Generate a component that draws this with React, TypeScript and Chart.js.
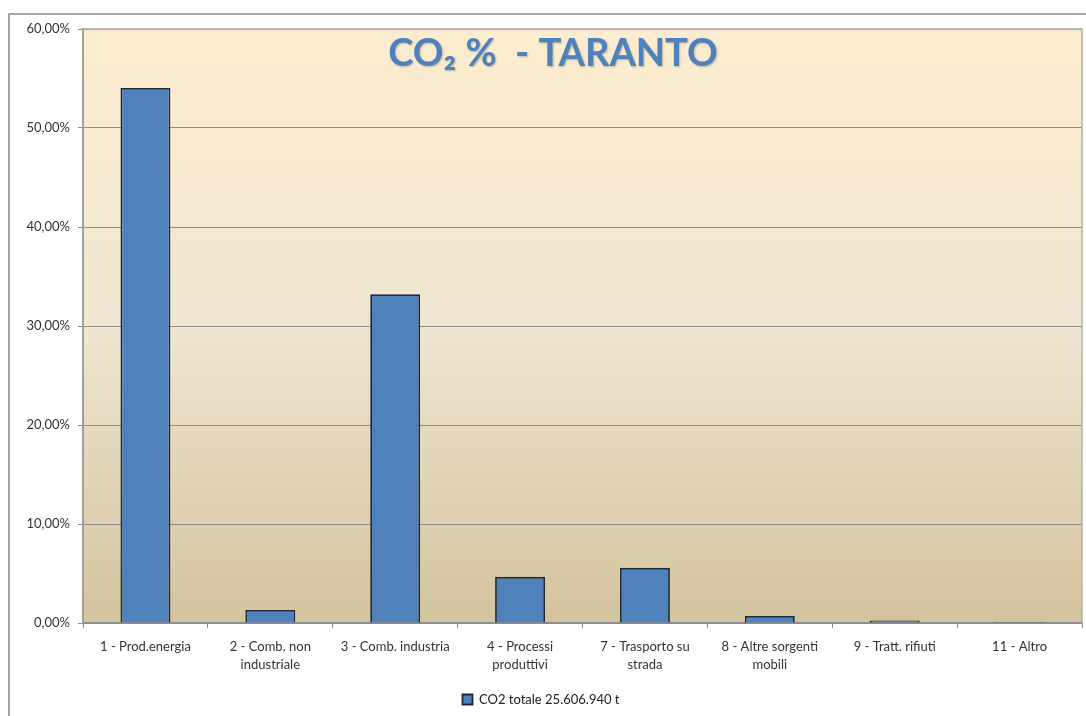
import React, { useEffect, useRef } from "react";
import { Chart, registerables } from "chart.js";

Chart.register(...registerables);

const categories: (string | string[])[] = [
  "1 - Prod.energia",
  ["2 - Comb. non", "industriale"],
  "3 - Comb. industria",
  ["4 - Processi", "produttivi"],
  ["7 - Trasporto su", "strada"],
  ["8 - Altre sorgenti", "mobili"],
  "9 - Tratt. rifiuti",
  "11 - Altro",
];
const co2Percent = [54.05, 1.32, 33.2, 4.66, 5.57, 0.7, 0.25, 0.1];
const seriesLabel = "CO2 totale 25.606.940 t";
const chartTitle = "CO\u2082 %  - TARANTO";

const FONT = "Lato, 'Open Sans', sans-serif";

const frame = {
  id: "frame",
  beforeDraw(chart: any) {
    const { ctx, chartArea, width, height } = chart;
    ctx.save();
    ctx.fillStyle = "#ffffff";
    ctx.fillRect(0, 0, width, height);
    ctx.fillStyle = "#a6a6a6";
    ctx.fillRect(8, 13, 2, height);
    ctx.fillRect(8, 13, width, 2);
    const g = ctx.createLinearGradient(0, chartArea.top, 0, chartArea.bottom);
    g.addColorStop(0, "#fdedd0");
    g.addColorStop(0.5, "#efe7d2");
    g.addColorStop(1, "#d4c39e");
    ctx.fillStyle = g;
    ctx.fillRect(chartArea.left, chartArea.top, chartArea.right - chartArea.left, chartArea.bottom - chartArea.top);
    ctx.restore();
  },
  afterDraw(chart: any) {
    const { ctx, chartArea } = chart;
    ctx.save();
    ctx.strokeStyle = "#b0b0b0";
    ctx.lineWidth = 1.5;
    ctx.beginPath();
    ctx.moveTo(chartArea.left, chartArea.top);
    ctx.lineTo(chartArea.right, chartArea.top);
    ctx.lineTo(chartArea.right, chartArea.bottom);
    ctx.stroke();
    ctx.font = `bold 38px ${FONT}`;
    ctx.fillStyle = "#4f81bd";
    ctx.textAlign = "center";
    ctx.textBaseline = "middle";
    ctx.shadowColor = "rgba(0,0,0,0.25)";
    ctx.shadowBlur = 2;
    ctx.shadowOffsetX = 1;
    ctx.shadowOffsetY = 1;
    ctx.fillText(chartTitle, 553, chartArea.top + 25);
    ctx.restore();
  },
};

export default function App() {
  const ref = useRef<HTMLCanvasElement>(null);
  useEffect(() => {
    if (!ref.current) return;
    const chart = new Chart(ref.current, {
      type: "bar",
      data: {
        labels: categories,
        datasets: [
          {
            label: seriesLabel,
            data: co2Percent,
            backgroundColor: "#4f81bd",
            borderColor: "#1f2a36",
            borderWidth: 1.8,
            barPercentage: 0.4,
            categoryPercentage: 1,
          },
        ],
      },
      plugins: [frame],
      options: {
        animation: false,
        responsive: true,
        maintainAspectRatio: false,
        layout: { padding: { top: 29, right: 4, bottom: 0, left: 0 } },
        plugins: {
          title: { display: false },
          tooltip: { enabled: false },
          legend: {
            position: "bottom",
            labels: {
              boxWidth: 10,
              boxHeight: 10,
              padding: 9,
              color: "#222",
              font: { family: FONT, size: 13 },
            },
          },
        },
        scales: {
          x: {
            afterFit: (s: any) => {
              s.height = 61;
            },
            grid: {
              offset: true,
              drawOnChartArea: false,
              drawTicks: true,
              tickLength: 5,
              color: "#8c8c8c",
            },
            border: { display: true, color: "#8c8c8c", width: 1.5 },
            ticks: {
              color: "#333",
              padding: 10,
              maxRotation: 0,
              autoSkip: false,
              font: { family: FONT, size: 13, lineHeight: 1.35 },
            },
          },
          y: {
            min: 0,
            max: 60,
            afterFit: (s: any) => {
              s.width = 83;
            },
            grid: {
              color: "#8c8c8c",
              drawTicks: true,
              tickLength: 5,
            },
            border: { display: true, color: "#a0a0a0", width: 2 },
            ticks: {
              stepSize: 10,
              padding: 8,
              color: "#333",
              font: { family: FONT, size: 13 },
              callback: (v: any) => Number(v).toFixed(2).replace(".", ",") + "%",
            },
          },
        },
      },
    });
    return () => chart.destroy();
  }, []);
  return (
    <div style={{ position: "absolute", left: 0, top: 0, width: 1086, height: 716 }}>
      <canvas ref={ref} />
    </div>
  );
}
